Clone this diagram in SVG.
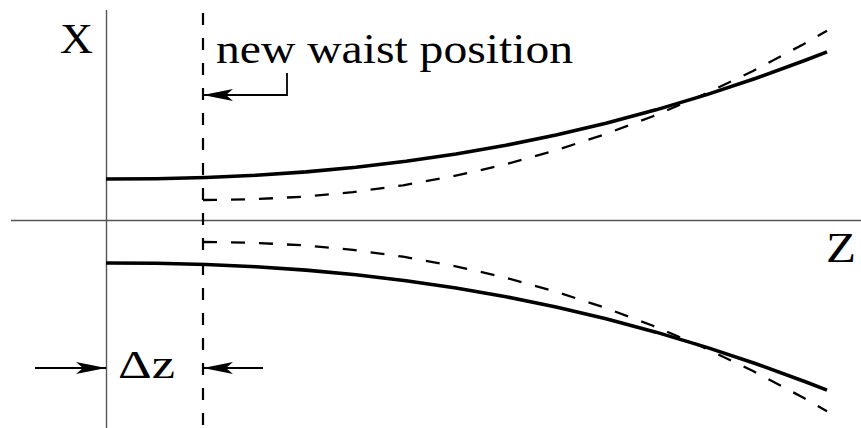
<svg xmlns="http://www.w3.org/2000/svg" width="861" height="428" viewBox="0 0 861 428">
<style>
.axis{stroke:#555;stroke-width:1.4;fill:none}
.beam{stroke:#000;stroke-width:3.6;fill:none;stroke-linejoin:round}
.newbeam{stroke:#000;stroke-width:2.3;fill:none;stroke-dasharray:14 14}
.waist{stroke:#000;stroke-width:2.2;fill:none;stroke-dasharray:12 13}
.arrow{stroke:#000;stroke-width:1.8;fill:none;marker-end:url(#ah)}
text{font-family:Liberation Serif,Times New Roman,Times,serif;fill:#000}
</style>
<defs>
<marker id="ah" markerUnits="userSpaceOnUse" markerWidth="34" markerHeight="16" viewBox="-32 -8 34 16" refX="0" refY="0" orient="auto">
<path d="M0,0 L-30,-6 L-23,0 L-30,6 Z" fill="#000"/>
</marker>
</defs>
<rect width="861" height="428" fill="#fff"/>
<g id="axes">
<line class="axis" x1="106.5" y1="10" x2="106.5" y2="428"/>
<line class="axis" x1="11" y1="220.5" x2="861" y2="220.5"/>
</g>
<g id="label-x"><text x="60" y="53" font-size="42" textLength="33" lengthAdjust="spacingAndGlyphs">X</text></g>
<g id="label-z"><text x="826" y="262" font-size="42" textLength="30" lengthAdjust="spacingAndGlyphs">Z</text></g>
<g id="waist-line"><line class="waist" x1="203" y1="13" x2="203" y2="428"/></g>
<g id="old-beam">
<path class="beam" d="M106,179 L156,178.69 L206,177.51 L256,175.28 L306,171.90 L356,167.27 L406,161.32 L456,153.99 L506,145.23 L556,134.98 L606,123.20 L656,109.86 L706,94.90 L756,78.31 L806,60.04 L827,51.86"/>
<path class="beam" d="M106,263 L156,263.31 L206,264.49 L256,266.72 L306,270.10 L356,274.73 L406,280.68 L456,288.01 L506,296.77 L556,307.02 L606,318.80 L656,332.14 L706,347.10 L756,363.69 L806,381.96 L827,390.14"/>
</g>
<g id="new-beam">
<path class="newbeam" d="M203,200 L253,199.26 L303,196.70 L353,192.10 L403,185.34 L453,176.32 L503,164.96 L553,151.19 L603,134.95 L653,116.21 L703,94.90 L753,71.0 L803,44.47 L827,30.79"/>
<path class="newbeam" d="M203,242 L253,242.74 L303,245.30 L353,249.90 L403,256.66 L453,265.68 L503,277.04 L553,290.81 L603,307.05 L653,325.79 L703,347.10 L753,371.0 L803,397.53 L827,411.21"/>
</g>
<g id="label-new-waist"><text x="216" y="63" font-size="43" textLength="357" lengthAdjust="spacingAndGlyphs">new waist position</text></g>
<g id="label-dz"><text x="118" y="378" font-size="40" textLength="57" lengthAdjust="spacingAndGlyphs">Δz</text></g>
<g id="connectors">
<path class="arrow" d="M287,73 V95 H203"/>
<path class="arrow" d="M35,368 H106"/>
<path class="arrow" d="M263,368 H203"/>
</g>
</svg>
